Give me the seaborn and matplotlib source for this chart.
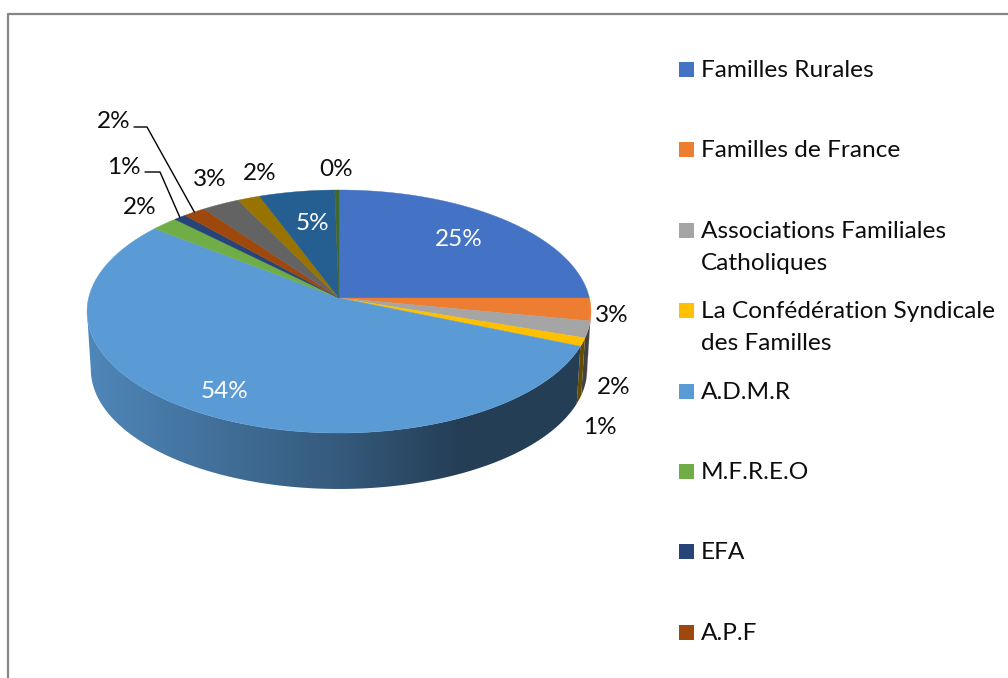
import numpy as np
import matplotlib
matplotlib.use('Agg')
import matplotlib.pyplot as plt
import seaborn as sns
from matplotlib.lines import Line2D
from matplotlib.patches import Polygon, Rectangle

# legend only shows the first 8 names, the rest is cut off in the reference
categories = ['Familles Rurales', 'Familles de France',
              'Associations Familiales\nCatholiques',
              'La Confédération Syndicale\ndes Familles',
              'A.D.M.R', 'M.F.R.E.O', 'EFA', 'A.P.F']
values = [25.0, 3.0, 2.2, 1.1, 54.3, 1.9, 0.9, 1.6, 2.7, 1.6, 5.4, 0.3]
colors = ['#4472C4', '#ED7D31', '#A5A5A5', '#FFC000', '#5B9BD5', '#70AD47',
          '#264478', '#9E480E', '#636363', '#997300', '#255E91', '#43682B']

# layout, in pixels
label_pos = [(459, 240), (612, 316), (614, 388), (600, 428), (225, 392), (140, 208),
             (124, 167), (114, 122), (210, 180), (260, 173), (312, 224), (336, 169)]
white_labels = [0, 4, 10]
leaders = {6: (145, 172, 160), 7: (134, 127, 147)}
legend_rows = [69, 149, 230, 310, 391, 471, 551, 632]

CX, CY = 339, 298
A, B, K = 250.4, 120, 1 / 9
DEPTH, SHRINK = 58, 0.985

sns.set_theme(style='white')
plt.rcParams['font.family'] = ['Lato', 'DejaVu Sans']
palette = sns.color_palette(colors)


def project(theta):
    # circle seen in perspective, the far edge looks smaller
    w = 1 + K * np.sin(theta)
    return A * np.cos(theta) / w, B * np.sin(theta) / w


fig = plt.figure(figsize=(10.08, 6.78), dpi=100)
ax = fig.add_axes([0, 0, 1, 1])
ax.set_axis_off()

edges = np.pi / 2 - 2 * np.pi * np.concatenate([[0], np.cumsum(values)]) / np.sum(values)

# horizontal shading of the side, same for every slice
grid_x = np.arange(80, 600)
shading = np.interp(grid_x, [87, 340, 460, 600], [0.87, 0.58, 0.40, 0.40])

# only the front of the rim is visible, it ends where the ellipse is widest
for i, color in enumerate(palette):
    t = np.linspace(edges[i], edges[i + 1], max(int(values[i] * 12), 3))
    t = t[np.sin(t) <= -K]
    if len(t) < 2:
        continue
    x, y = project(t)
    side_x = CX + np.r_[x, x[::-1] * SHRINK]
    side_y = CY - np.r_[y, y[::-1] * SHRINK - DEPTH]
    side = Polygon(np.c_[side_x, side_y], closed=True, transform=ax.transData, fc='none', lw=0)
    ax.add_patch(side)
    grad = shading[None, :, None] * np.array(color)[None, None, :]
    im = ax.imshow(grad, extent=(80, 600, 500, 200), aspect='auto', interpolation='bilinear')
    im.set_clip_path(side)

ax.set_xlim(0, 1008)
ax.set_ylim(678, 0)

for i, color in enumerate(palette):
    t = np.linspace(edges[i], edges[i + 1], max(int(values[i] * 12), 3))
    x, y = project(t)
    ax.fill(np.r_[CX, CX + x], np.r_[CY, CY - y], color=color, lw=0.3)

for i, (x, y) in enumerate(label_pos):
    ax.text(x, y, f'{round(values[i])}%', ha='center', va='center', fontsize=17.5,
            color='white' if i in white_labels else '#0d0d0d')

for i, (lx, ly, kx) in leaders.items():
    x, y = project((edges[i] + edges[i + 1]) / 2)
    ax.plot([lx, kx, CX + x], [ly, ly, CY - y], color='black', lw=1)

for name, color, y in zip(categories, palette, legend_rows):
    ax.add_patch(Rectangle((679, y - 7.5), 15, 15, color=color, lw=0))
    for j, line in enumerate(name.split('\n')):
        ax.text(701, y + 8 + 32 * j, line, ha='left', va='baseline', fontsize=17.6, color='#0d0d0d')

# chart frame, cut off on the right and at the bottom
ax.add_line(Line2D([8, 8, 1008], [678, 14, 14], color='#868686', lw=1.6))

fig.savefig('out.png', dpi=100)
